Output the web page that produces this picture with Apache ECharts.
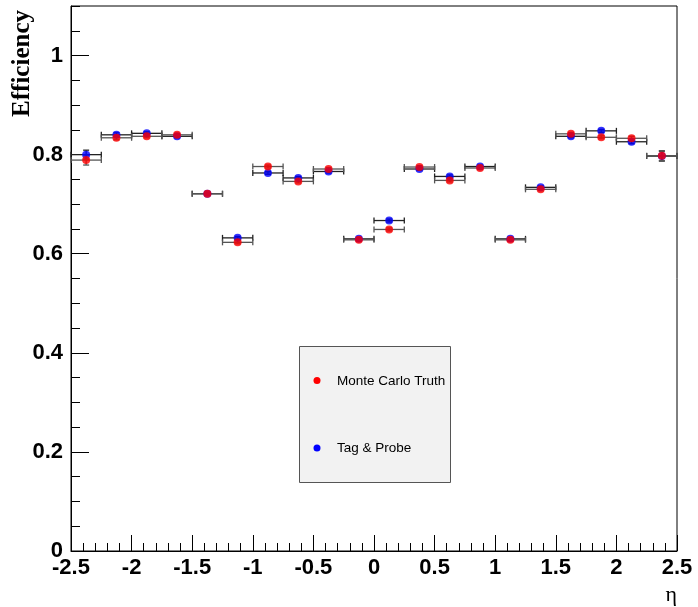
<!DOCTYPE html>
<html>
<head>
<meta charset="utf-8">
<script src="https://cdn.jsdelivr.net/npm/echarts@6/dist/echarts.min.js"></script>
<style>html,body{margin:0;padding:0;background:#fff;}#c{width:698px;height:607px;}</style>
</head>
<body>
<div id="c"></div>
<script>
// eta bin centres and half widths
const etaCenters = [-2.375, -2.125, -1.875, -1.625, -1.375, -1.125, -0.875, -0.625, -0.375, -0.125,
                     0.125,  0.375,  0.625,  0.875,  1.125,  1.375,  1.625,  1.875,  2.125,  2.375];
const etaHalfWidth = [0.125, 0.125, 0.125, 0.125, 0.125, 0.125, 0.125, 0.125, 0.125, 0.125,
                      0.125, 0.125, 0.125, 0.125, 0.125, 0.125, 0.125, 0.125, 0.125, 0.125];
// Monte Carlo Truth efficiency
const mcTruth = [0.789, 0.834, 0.837, 0.840, 0.721, 0.623, 0.776, 0.746, 0.771, 0.628,
                 0.649, 0.775, 0.748, 0.773, 0.628, 0.730, 0.842, 0.835, 0.833, 0.798];
const mcErr   = [0.010, 0.004, 0.003, 0.003, 0.003, 0.003, 0.003, 0.003, 0.003, 0.003,
                 0.003, 0.003, 0.003, 0.003, 0.003, 0.003, 0.003, 0.003, 0.004, 0.010];
// Tag & Probe efficiency
const tagProbe = [0.800, 0.840, 0.843, 0.837, 0.721, 0.632, 0.763, 0.753, 0.766, 0.630,
                  0.667, 0.771, 0.756, 0.776, 0.630, 0.734, 0.837, 0.848, 0.826, 0.797];
const tpErr    = [0.009, 0.004, 0.003, 0.003, 0.003, 0.003, 0.003, 0.003, 0.003, 0.003,
                  0.003, 0.003, 0.003, 0.003, 0.003, 0.003, 0.003, 0.003, 0.004, 0.010];
// axis ticks
const xTickLabels = ['-2.5', '-2', '-1.5', '-1', '-0.5', '0', '0.5', '1', '1.5', '2', '2.5'];
const yTickLabels = ['0', '0.2', '0.4', '0.6', '0.8', '1'];

const chart = echarts.init(document.getElementById('c'), null, {renderer: 'canvas'});

function buildErr(yArr, eArr) {
  return etaCenters.map((x, i) => [x, yArr[i], etaHalfWidth[i], eArr[i]]);
}

function errRender(color) {
  return function (params, api) {
    const x = api.value(0), y = api.value(1), ex = api.value(2), ey = api.value(3);
    const l = api.coord([x - ex, y]), r = api.coord([x + ex, y]);
    const t = api.coord([x, y + ey]), b = api.coord([x, y - ey]);
    const cap = 3;
    const st = {stroke: color, lineWidth: 1.3};
    const ch = [
      {type: 'line', shape: {x1: l[0], y1: l[1], x2: r[0], y2: r[1]}, style: st},
      {type: 'line', shape: {x1: l[0], y1: l[1] - cap, x2: l[0], y2: l[1] + cap}, style: st},
      {type: 'line', shape: {x1: r[0], y1: r[1] - cap, x2: r[0], y2: r[1] + cap}, style: st},
      {type: 'line', shape: {x1: t[0], y1: t[1], x2: b[0], y2: b[1]}, style: st},
      {type: 'line', shape: {x1: t[0] - cap, y1: t[1], x2: t[0] + cap, y2: t[1]}, style: st},
      {type: 'line', shape: {x1: b[0] - cap, y1: b[1], x2: b[0] + cap, y2: b[1]}, style: st}
    ];
    return {type: 'group', children: ch};
  };
}

const labelFont = {fontFamily: 'Liberation Sans', fontWeight: 'bold', fontSize: 22, color: '#000'};

const option = {
  animation: false,
  backgroundColor: '#fff',
  grid: {left: 71, right: 21, top: 6, bottom: 56, show: true, borderColor: '#000', borderWidth: 1, backgroundColor: 'transparent'},
  xAxis: {
    type: 'value', min: -2.5, max: 2.5, interval: 0.5,
    axisLine: {show: true, onZero: false, lineStyle: {color: '#000', width: 1}},
    axisTick: {show: true, inside: true, length: 16, lineStyle: {color: '#000', width: 1}},
    minorTick: {show: true, splitNumber: 5, length: 8, lineStyle: {color: '#000', width: 1}},
    splitLine: {show: false},
    axisLabel: Object.assign({margin: 6, showMinLabel: true, showMaxLabel: true,
      formatter: function (v) { const i = Math.round((v + 2.5) / 0.5); return xTickLabels[i] !== undefined ? xTickLabels[i] : ''; }}, labelFont)
  },
  yAxis: [{
    type: 'value', min: 0, max: 1.1, interval: 0.2, position: 'left',
    axisLine: {show: true, onZero: false, lineStyle: {color: '#000', width: 1}},
    axisTick: {show: true, inside: true, length: 18, lineStyle: {color: '#000', width: 1}},
    splitLine: {show: false},
    axisLabel: Object.assign({margin: 8, showMaxLabel: false,
      formatter: function (v) { const k = v / 0.2; const i = Math.round(k); return Math.abs(k - i) < 1e-6 && yTickLabels[i] !== undefined ? yTickLabels[i] : ''; }}, labelFont)
  }, {
    type: 'value', min: 0, max: 1.1, interval: 0.05, position: 'left', offset: 0,
    axisLine: {show: false, onZero: false},
    axisTick: {show: true, inside: true, length: 9, lineStyle: {color: '#000', width: 1}},
    splitLine: {show: false},
    axisLabel: {show: false}
  }],
  series: [
    {type: 'custom', name: 'tpErr', renderItem: errRender('#222'), data: buildErr(tagProbe, tpErr),
      encode: {x: 0, y: 1}, z: 2, silent: true},
    {type: 'custom', name: 'mcErr', renderItem: errRender('#555'), data: buildErr(mcTruth, mcErr),
      encode: {x: 0, y: 1}, z: 2, silent: true},
    {type: 'scatter', name: 'Tag & Probe', symbol: 'circle', symbolSize: 8,
      itemStyle: {color: '#0000ff'}, data: etaCenters.map((x, i) => [x, tagProbe[i]]), z: 3},
    {type: 'scatter', name: 'Monte Carlo Truth', symbol: 'circle', symbolSize: 8,
      itemStyle: {color: '#ff0000'}, data: etaCenters.map((x, i) => [x, mcTruth[i]]), z: 4}
  ],
  graphic: [
    {type: 'text', x: 23, y: 10, rotation: Math.PI / 2,
      style: {text: 'Efficiency', font: 'bold 25px "Liberation Serif"', fill: '#000', align: 'right', verticalAlign: 'middle'}},
    {type: 'text', x: 677, y: 595,
      style: {text: 'η', font: '22px "Liberation Serif"', fill: '#000', align: 'right', verticalAlign: 'middle'}},
    {type: 'rect', shape: {x: 299.5, y: 346.5, width: 151, height: 136},
      style: {fill: '#f2f2f2', stroke: '#555', lineWidth: 1}, z: 10},
    {type: 'circle', shape: {cx: 317, cy: 380.5, r: 3.5}, style: {fill: '#ff0000'}, z: 11},
    {type: 'text', x: 337, y: 381.5, style: {text: 'Monte Carlo Truth', font: '13.5px "Liberation Sans"', fill: '#000', align: 'left', verticalAlign: 'middle'}, z: 11},
    {type: 'circle', shape: {cx: 317, cy: 448, r: 3.5}, style: {fill: '#0000ff'}, z: 11},
    {type: 'text', x: 337, y: 448.5, style: {text: 'Tag & Probe', font: '13.5px "Liberation Sans"', fill: '#000', align: 'left', verticalAlign: 'middle'}, z: 11}
  ]
};
chart.setOption(option);
</script>
</body>
</html>
